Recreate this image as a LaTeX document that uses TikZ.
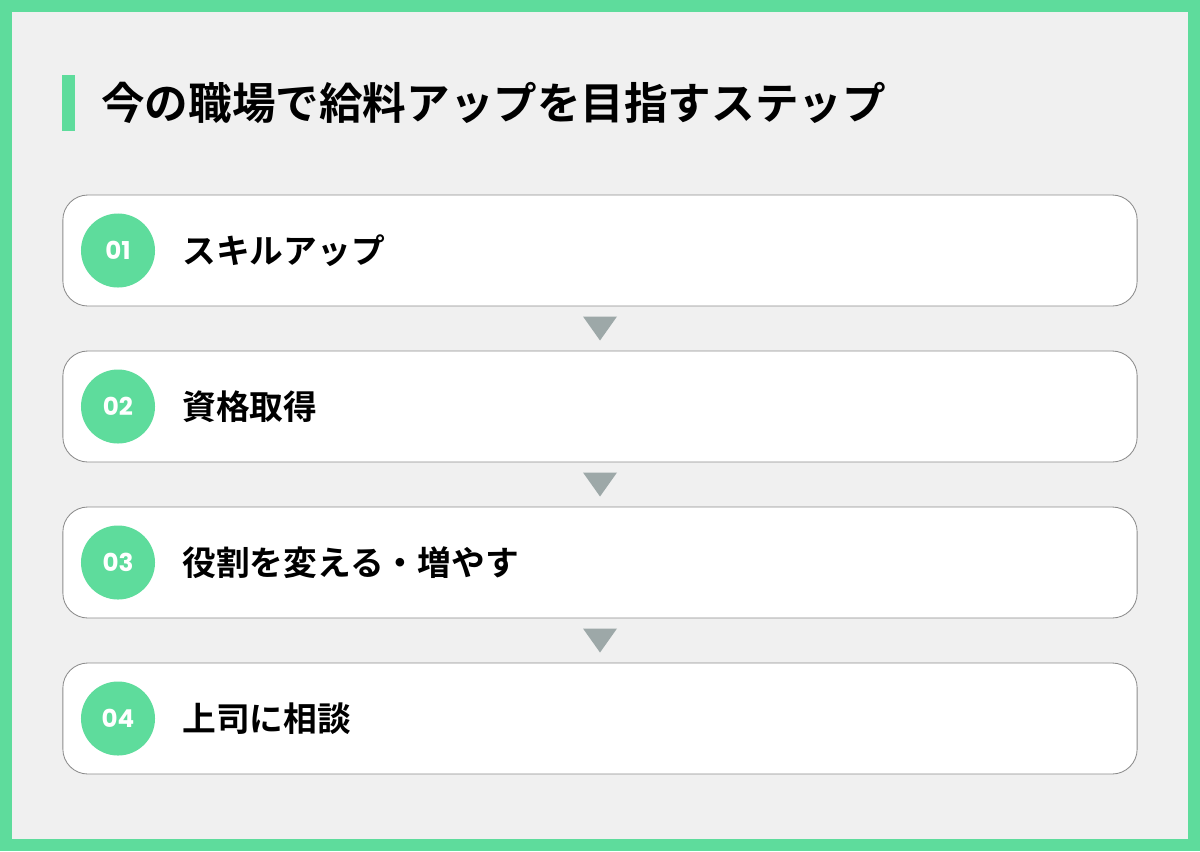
\documentclass[tikz,border=0pt]{standalone}
\usepackage{fontspec}
\setmainfont{Noto Sans CJK JP}[BoldFont={Noto Sans CJK JP Bold}]
\newfontfamily\numfont{Poppins}
\usetikzlibrary{calc}
\definecolor{mint}{HTML}{5EDC9C}
\definecolor{paper}{HTML}{F0F0F0}
\definecolor{frame}{HTML}{8C8C8C}
\definecolor{pointer}{HTML}{9DA8A8}
\begin{document}
\begin{tikzpicture}[x=0.025cm, y=-0.025cm, line join=round, line cap=round,
  stepcard/.style={draw=frame, line width=0.6pt, fill=white, rounded corners=0.625cm,
    minimum width=26.85cm, minimum height=2.775cm, inner sep=0pt},
  badge/.style={circle, fill=mint, minimum size=1.85cm, inner sep=0pt, text=white,
    font=\numfont\fontsize{17.5}{18}\selectfont\bfseries},
  steptext/.style={anchor=west, inner sep=0pt, font=\fontsize{24}{26}\selectfont\bfseries}]
% Rahmen und Hintergrund
\useasboundingbox (0,0) rectangle (1200,851);
\fill[mint] (0,0) rectangle (1200,851);
\fill[paper] (12,12) rectangle (1188,839);
% Titel
\fill[mint] (62,75) rectangle (75,131);
\node[anchor=west, inner sep=0pt, font=\fontsize{31}{34}\selectfont\bfseries] (title) at (101,103) {今の職場で給料アップを目指すステップ};
% Schritte
\foreach \i/\y/\t in {1/250.5/スキルアップ, 2/406.5/資格取得, 3/562.5/役割を変える・増やす, 4/718.5/上司に相談} {
  \node[stepcard] (s\i) at (600,\y) {};
  \node[badge] (n\i) at (118,\y) {0\i};
  \node[steptext] (t\i) at (182,\y) {\t};
}
% Pfeile
\foreach \a/\b in {1/2, 2/3, 3/4} {
  \coordinate (m\a) at ($(s\a.south)!0.5!(s\b.north)$);
  \fill[pointer] ($(m\a)+(-17,-12)$) -- ($(m\a)+(17,-12)$) -- ($(m\a)+(0,12)$) -- cycle;
}
\end{tikzpicture}
\end{document}
